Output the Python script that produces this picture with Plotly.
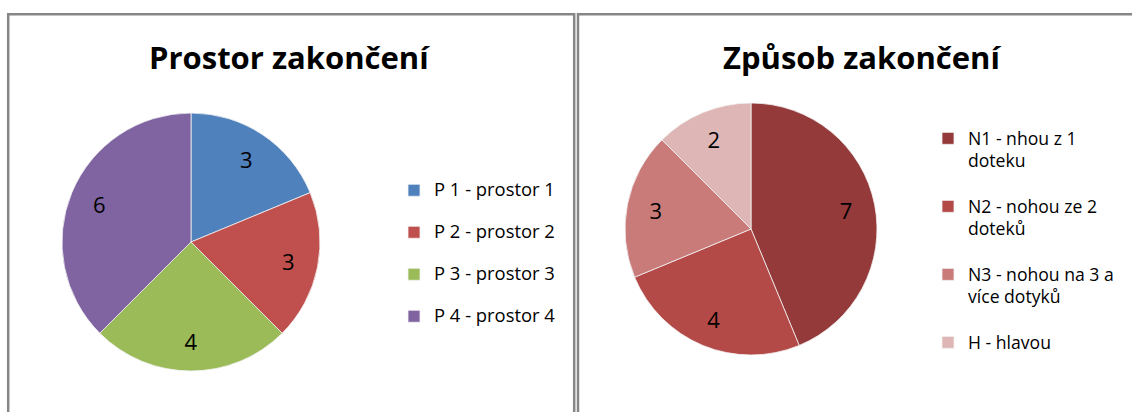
import plotly.graph_objects as go

W, H = 1132, 412

left_title = "Prostor zakončení"
left_labels = ["P 1 - prostor 1", "P 2 - prostor 2", "P 3 - prostor 3", "P 4 - prostor 4"]
left_values = [3, 3, 4, 6]
left_colors = ["#4F81BD", "#C0504D", "#9BBB59", "#8064A2"]

right_title = "Způsob zakončení"
right_label_lines = [["N1 - nhou z 1", "doteku"], ["N2 - nohou ze 2", "doteků"],
                     ["N3 - nohou na 3 a", "více dotyků"], ["H - hlavou"]]
right_values = [7, 4, 3, 2]
right_colors = ["#953A3A", "#B34A48", "#C97B7A", "#DEB6B5"]

FONT = "Open Sans"
TXT = 18.4
TXT_R = 17.6


def px_x(v):
    return v / W


def px_y(v):
    return (H - v) / H


def span(s, size):
    return "<span style='font-size:%spx'>%s</span>" % (size, s)


# legend labels (extra blank line keeps the Excel-like spacing of the entries)
left_legend = [span(s, TXT) + "<br> " for s in left_labels]
right_legend = []
for lines in right_label_lines:
    txt = "<br>".join(span(s, TXT_R) for s in lines)
    if len(lines) > 1:
        txt += "<br> "
    right_legend.append(txt)

left_dom = dict(x=[px_x(191 - 129), px_x(191 + 129)], y=[px_y(242 + 129), px_y(242 - 129)])
right_dom = dict(x=[px_x(751 - 126), px_x(751 + 126)], y=[px_y(229 + 126), px_y(229 - 126)])

fig = go.Figure()

for labels, values, colors, dom, leg in [
    (left_legend, left_values, left_colors, left_dom, "legend"),
    (right_legend, right_values, right_colors, right_dom, "legend2"),
]:
    # coloured slices + legend
    fig.add_trace(go.Pie(
        labels=labels, values=values, sort=False, direction="clockwise", rotation=0,
        marker=dict(colors=colors, line=dict(color="#F2F2F2", width=0.8)),
        textinfo="none", domain=dom, legend=leg, hoverinfo="value",
    ))
    # value labels, placed by plotly in the outer ring
    fig.add_trace(go.Pie(
        labels=labels, values=values, sort=False, direction="clockwise", rotation=0,
        hole=0.54, marker=dict(colors=["rgba(0,0,0,0)"] * len(values), line=dict(width=0)),
        textinfo="value", textposition="inside", insidetextorientation="horizontal",
        textfont=dict(family=FONT, size=22, color="#000000"),
        domain=dom, showlegend=False, hoverinfo="skip",
    ))

fig.update_layout(
    width=W, height=H,
    margin=dict(l=0, r=0, t=0, b=0),
    paper_bgcolor="#FFFFFF",
    plot_bgcolor="#FFFFFF",
    font=dict(family=FONT, color="#000000"),
    legend=dict(x=px_x(394), y=px_y(174), xanchor="left", yanchor="top", valign="top",
                font=dict(family=FONT, size=15, color="#000000"),
                bgcolor="rgba(0,0,0,0)", itemclick=False, itemdoubleclick=False),
    legend2=dict(x=px_x(928), y=px_y(121), xanchor="left", yanchor="top", valign="top",
                 font=dict(family=FONT, size=16.67, color="#000000"),
                 bgcolor="rgba(0,0,0,0)", itemclick=False, itemdoubleclick=False),
    annotations=[
        dict(text="<b>%s</b>" % left_title, x=px_x(289), y=px_y(57), xref="paper", yref="paper",
             xanchor="center", yanchor="middle", showarrow=False,
             font=dict(family=FONT, size=31, color="#000000")),
        dict(text="<b>%s</b>" % right_title, x=px_x(862), y=px_y(57), xref="paper", yref="paper",
             xanchor="center", yanchor="middle", showarrow=False,
             font=dict(family=FONT, size=31, color="#000000")),
    ],
    shapes=[
        dict(type="rect", xref="paper", yref="paper",
             x0=px_x(8.2), x1=px_x(574.2), y0=px_y(440), y1=px_y(14.2),
             line=dict(color="#868686", width=2.5), fillcolor="rgba(0,0,0,0)"),
        dict(type="rect", xref="paper", yref="paper",
             x0=px_x(578), x1=px_x(1160), y0=px_y(440), y1=px_y(14.2),
             line=dict(color="#868686", width=2.5), fillcolor="rgba(0,0,0,0)"),
    ],
)

fig.write_html("out.html", config={"displayModeBar": False},
               post_script="document.body.style.margin='0px';")
